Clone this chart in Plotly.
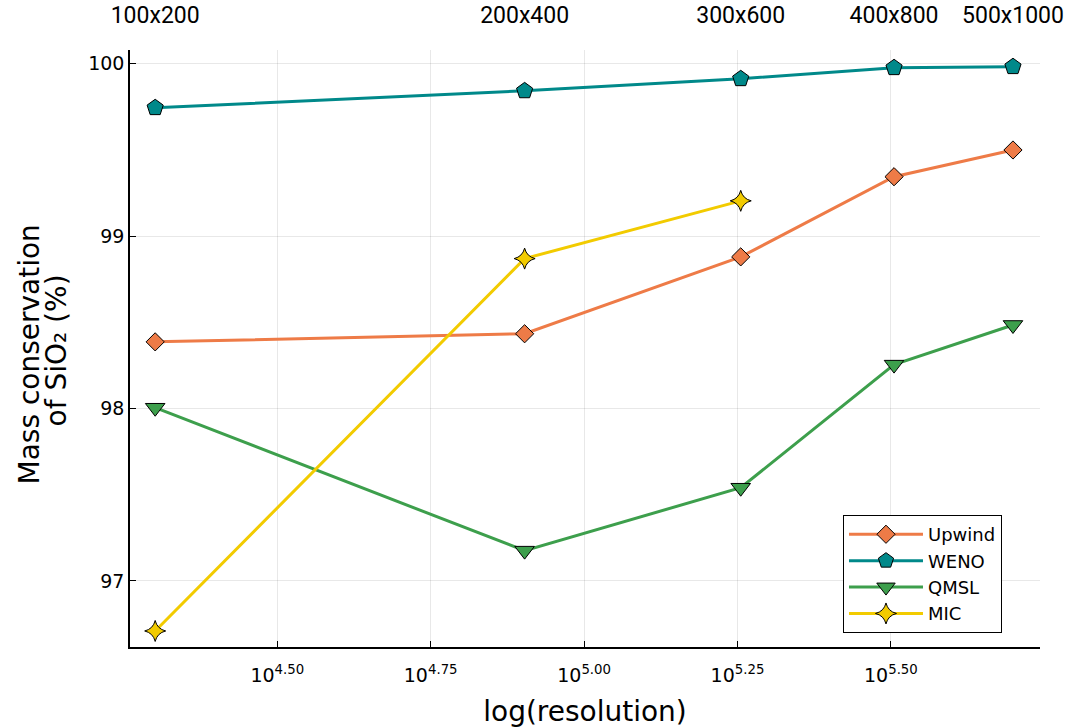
import plotly.graph_objects as go

resolutions = [20000, 80000, 180000, 320000, 500000]
grid_labels = ["100x200", "200x400", "300x600", "400x800", "500x1000"]

upwind = [98.387, 98.434, 98.88, 99.345, 99.50]
weno = [99.745, 99.843, 99.913, 99.977, 99.983]
qmsl = [98.005, 97.176, 97.541, 98.255, 98.485]
mic = [96.71, 98.87, 99.205]

xtick_vals = [10**4.5, 10**4.75, 10**5.0, 10**5.25, 10**5.5]
xtick_text = ["10<sup>4.50</sup>", "10<sup>4.75</sup>", "10<sup>5.00</sup>", "10<sup>5.25</sup>", "10<sup>5.50</sup>"]
ytick_vals = [97, 98, 99, 100]

series = [
    ("Upwind", upwind, "#EE7B47", "diamond", 14),
    ("WENO", weno, "#00898A", "pentagon", 17),
    ("QMSL", qmsl, "#3D9F4C", "triangle-down", 17),
    ("MIC", mic, "#F2CB00", "star-diamond", 15),
]

fig = go.Figure()
for name, ys, color, sym, size in series:
    fig.add_trace(go.Scatter(
        x=resolutions[:len(ys)], y=ys, name=name, mode="lines+markers",
        line=dict(color=color, width=3),
        marker=dict(symbol=sym, size=size, color=color, line=dict(color="black", width=1)),
    ))

# invisible trace for top axis
fig.add_trace(go.Scatter(x=resolutions, y=weno, xaxis="x2", mode="markers",
                         marker=dict(opacity=0), showlegend=False, hoverinfo="skip"))

xr = [4.260, 5.743]
fig.update_layout(
    width=1071, height=728,
    margin=dict(l=130, r=31, t=50, b=81, autoexpand=False),
    plot_bgcolor="white", paper_bgcolor="white",
    font=dict(family="DejaVu Sans", color="black"),
    xaxis=dict(
        type="log", range=xr, tickmode="array", tickvals=xtick_vals, ticktext=xtick_text,
        showline=True, linecolor="black", linewidth=1.5, ticks="inside", ticklen=6,
        tickcolor="black", showgrid=True, gridcolor="rgba(0,0,0,0.09)", gridwidth=1,
        zeroline=False, tickfont=dict(size=19), ticklabelstandoff=10, automargin=False,
        title=dict(text="log(resolution)", font=dict(size=28), standoff=18),
    ),
    xaxis2=dict(
        type="log", range=xr, overlaying="x", side="top", tickmode="array",
        tickvals=resolutions, ticktext=grid_labels, showgrid=False, showline=False,
        ticks="outside", ticklen=17, tickcolor="rgba(0,0,0,0)", zeroline=False,
        tickfont=dict(size=23, family="Roboto"), automargin=False,
    ),
    yaxis=dict(
        range=[96.617, 100.08], tickmode="array", tickvals=ytick_vals,
        showline=True, linecolor="black", linewidth=1.5, ticks="inside", ticklen=6,
        tickcolor="black", showgrid=True, gridcolor="rgba(0,0,0,0.09)", gridwidth=1,
        zeroline=False, tickfont=dict(size=19), automargin=False,
    ),
    annotations=[
        dict(text="Mass conservation", textangle=-90, xref="paper", yref="paper",
             x=0, y=0.5, xanchor="center", yanchor="middle", xshift=-101, yshift=-6,
             showarrow=False, font=dict(size=28)),
        dict(text="of SiO₂ (%)", textangle=-90, xref="paper", yref="paper",
             x=0, y=0.5, xanchor="center", yanchor="middle", xshift=-74, yshift=-2,
             showarrow=False, font=dict(size=28)),
    ],
    legend=dict(
        x=0.7835, y=0.221, xanchor="left", yanchor="top",
        bordercolor="black", borderwidth=1, bgcolor="white",
        font=dict(size=18), tracegroupgap=0, itemwidth=74,
    ),
)

fig.write_html("out.html", config={"displayModeBar": False},
               post_script="document.body.style.margin='0px';")
